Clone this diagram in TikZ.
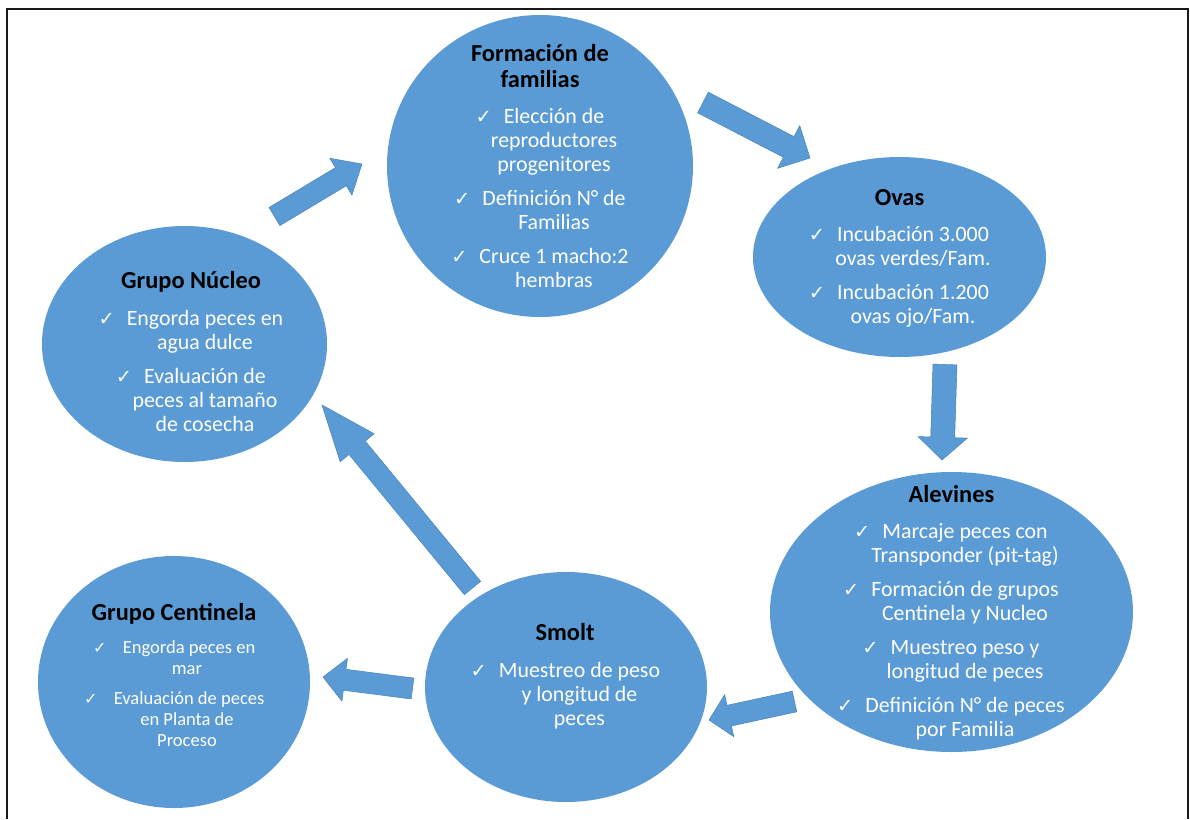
\documentclass[tikz,border=0pt]{standalone}
\usepackage{fontspec}
\setmainfont{Carlito}
\newfontfamily\chkfont{DejaVu Sans}
\usetikzlibrary{shapes.geometric,calc}
\definecolor{cblue}{HTML}{5B9BD5}
\definecolor{cedge}{HTML}{4A84BC}
\newcommand{\chk}[1][14.5]{\leavevmode\llap{{\chkfont\fontsize{#1}{#1}\selectfont ✓}\hspace{9pt}}}
\newcommand{\itemgap}[1][7.5pt]{\par\vspace{#1}}
% #1 name, #2 tail, #3 tip, #4 shaft half width, #5 head half width, #6 head length
\newcommand{\blockarrow}[6]{%
  \coordinate (#1h) at ($(#3)!#6!(#2)$);
  \filldraw[blockarrowstyle] ($(#2)!#4!90:(#3)$) -- ($(#1h)!#4!90:(#3)$) -- ($(#1h)!#5!90:(#3)$) -- (#3)
    -- ($(#1h)!#5!-90:(#3)$) -- ($(#1h)!#4!-90:(#3)$) -- ($(#2)!#4!-90:(#3)$) -- cycle;}
\begin{document}
\begin{tikzpicture}[x=0.75pt,y=-0.75pt,
  bubble/.style={ellipse, fill=cblue, inner sep=0pt},
  ttl/.style={anchor=base, text width=300pt, align=flush center, inner sep=0pt,
    font=\fontsize{18.3}{19.5}\selectfont\bfseries, text=black},
  body/.style={anchor=base, text width=300pt, align=flush center, inner sep=0pt,
    font=\fontsize{16.4}{18}\selectfont, text=white},
  smallbody/.style={body, font=\fontsize{13.9}{16}\selectfont},
  blockarrowstyle/.style={fill=cblue, draw=cedge, line width=0.4pt, line join=miter}]
\useasboundingbox (0,0) rectangle (1190,819);
\draw[line width=1.5pt, color=black!90] (7,819) -- (7,9) -- (1188,9) -- (1188,819);

% bubbles
\node[bubble, minimum width=229.5pt, minimum height=226.5pt] (fam) at (540,166) {};
\node[bubble, minimum width=219.75pt, minimum height=150pt] (ovas) at (899.5,257) {};
\node[bubble, minimum width=213.75pt, minimum height=177pt] (nuc) at (184.5,344) {};
\node[bubble, minimum width=272.25pt, minimum height=210pt] (alev) at (951.5,612) {};
\node[bubble, minimum width=204pt, minimum height=189pt] (cent) at (174,682) {};
\node[bubble, minimum width=211.5pt, minimum height=172.5pt] (smolt) at (566,687) {};

% texts
\node[ttl] (famT) at (540,61) {Formación de\\familias};
\node[body] (famB) at (554,123) {\chk Elección de\\reproductores\\progenitores\itemgap
  \chk Definición N° de\\Familias\itemgap
  \chk Cruce 1 macho:2\\hembras};

\node[ttl] (ovasT) at (899.5,205) {Ovas};
\node[body] (ovasB) at (913,241) {\chk Incubación 3.000\\ovas verdes/Fam.\itemgap
  \chk Incubación 1.200\\ovas ojo/Fam.};

\node[ttl] (nucT) at (191,288) {Grupo Núcleo};
\node[body] (nucB) at (205,325) {\chk Engorda peces en\\agua dulce\itemgap
  \chk Evaluación de\\peces al tamaño\\de cosecha};

\node[ttl] (alevT) at (951.5,502) {Alevines};
\node[body] (alevB) at (965,538) {\chk Marcaje peces con\\Transponder (pit-tag)\itemgap
  \chk Formación de grupos\\Centinela y Nucleo\itemgap
  \chk Muestreo peso y\\longitud de peces\itemgap
  \chk Definición N° de peces\\por Familia};

\node[ttl] (centT) at (174,620) {Grupo Centinela};
\node[smallbody] (centB) at (187,653) {\chk[12] Engorda peces en\\mar\itemgap[6.4pt]
  \chk[12] Evaluación de peces\\en Planta de\\Proceso};

\node[ttl] (smoltT) at (565,640) {Smolt};
\node[body] (smoltB) at (579.5,677) {\chk Muestreo de peso\\y longitud de\\peces};

% block arrows
\coordinate (a1s) at (274.5,216.5); \coordinate (a1e) at (362,164);
\blockarrow{a1}{a1s}{a1e}{7.9pt}{16.1pt}{18.5pt}
\coordinate (a2s) at (703,102.5); \coordinate (a2e) at (810,158);
\blockarrow{a2}{a2s}{a2e}{8.7pt}{18pt}{18pt}
\coordinate (a3s) at (945,364.5); \coordinate (a3e) at (942,460);
\blockarrow{a3}{a3s}{a3e}{9pt}{18.5pt}{17pt}
\coordinate (a4s) at (794.5,701.5); \coordinate (a4e) at (709,720);
\blockarrow{a4}{a4s}{a4e}{7.9pt}{16.1pt}{15.5pt}
\coordinate (a5s) at (412.5,688.5); \coordinate (a5e) at (323,677);
\blockarrow{a5}{a5s}{a5e}{7.9pt}{16.2pt}{16.4pt}
\coordinate (a6s) at (472.5,588); \coordinate (a6e) at (322,405);
\blockarrow{a6}{a6s}{a6e}{7.9pt}{16.5pt}{41.5pt}
\end{tikzpicture}
\end{document}
